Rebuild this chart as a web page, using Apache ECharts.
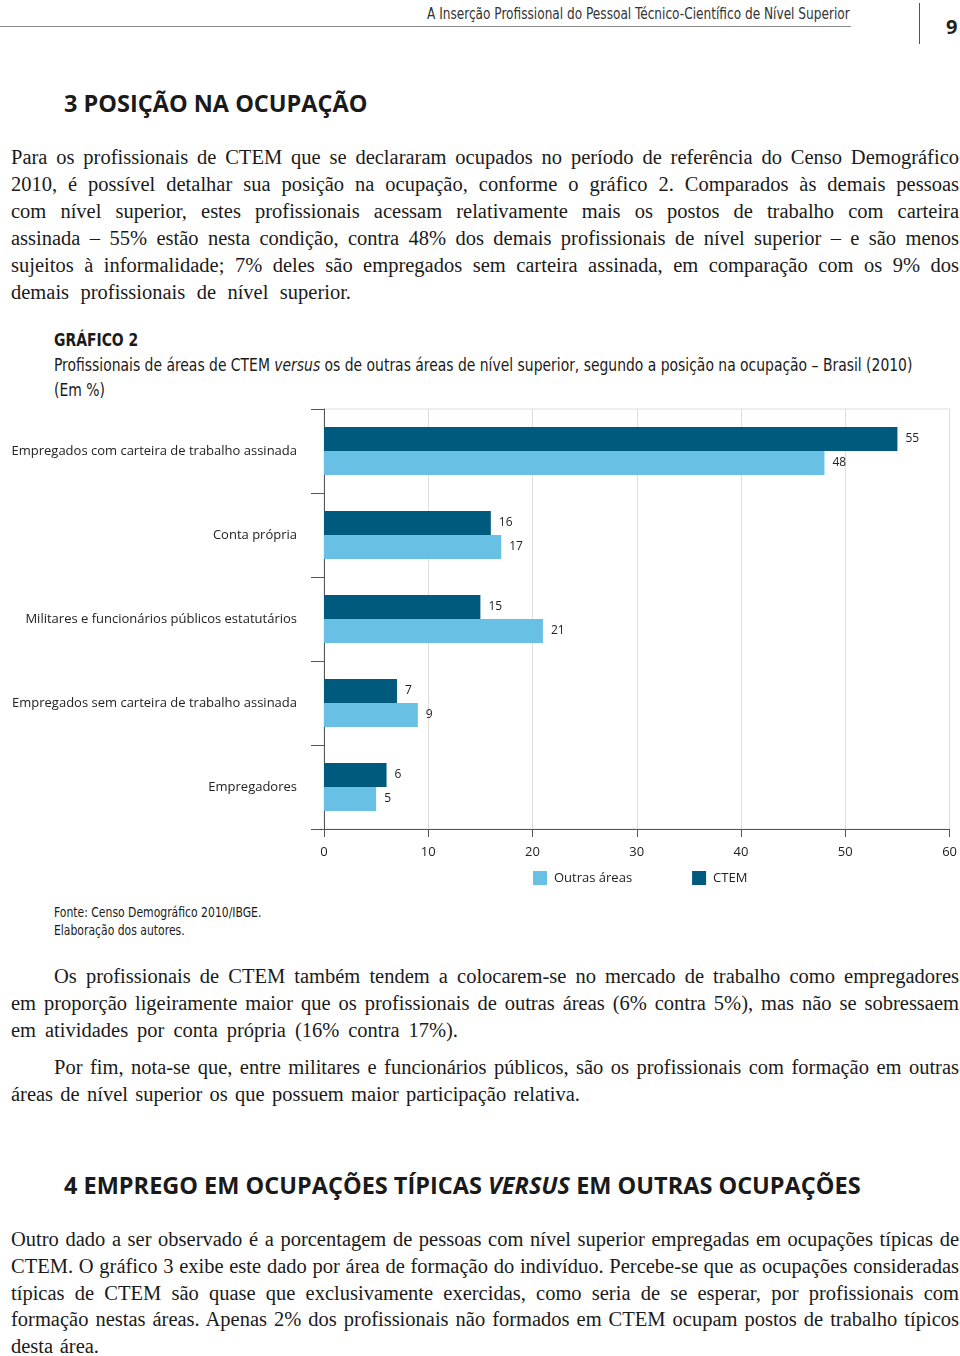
<!DOCTYPE html>
<html lang="pt">
<head>
<meta charset="utf-8">
<script src="https://cdn.jsdelivr.net/npm/echarts@6/dist/echarts.min.js"></script>
<style>
  html, body { margin:0; padding:0; background:#fff; }
  body { width:960px; height:1356px; position:relative; overflow:hidden; color:#1a1a1a; }
  .abs { position:absolute; }
  .cond { font-family:"Liberation Sans Narrow","DejaVu Sans Condensed",sans-serif; white-space:nowrap; }
  .hdr { font-size:15px; color:#333; right:110px; top:5px; transform:scaleX(0.9); transform-origin:right center; }
  .hline { left:0; top:26px; width:851px; height:1px; background:#8a8a8a; }
  .vline { left:919px; top:3px; width:1px; height:41px; background:#555; }
  .pnum { left:946px; top:13px; font-family:"Open Sans",sans-serif; font-weight:700; font-size:20px; color:#222; }
  .h { font-family:"Open Sans",sans-serif; font-weight:700; font-size:23.5px; color:#1a1a1a; left:64px; white-space:nowrap; }
  .p { font-family:"Liberation Serif",serif; font-size:20.5px; line-height:27px; left:11px; width:948px; color:#1a1a1a; }
  .p div { white-space:nowrap; text-align:justify; text-align-last:justify; }
  .p div.ind { padding-left:43px; }
  .ct { left:54px; color:#1a1a1a; transform-origin:left center; }
  #chart { position:absolute; left:0; top:400px; width:960px; height:495px; }
</style>
</head>
<body>
<div class="abs cond hdr">A Inserção Profissional do Pessoal Técnico-Científico de Nível Superior</div>
<div class="abs hline"></div>
<div class="abs vline"></div>
<div class="abs pnum">9</div>

<div class="abs h" style="top:87px;">3 POSIÇÃO NA OCUPAÇÃO</div>

<div class="abs p" style="top:144px;">
  <div>Para os profissionais de CTEM que se declararam ocupados no período de referência do Censo Demográfico</div>
  <div>2010, é possível detalhar sua posição na ocupação, conforme o gráfico 2. Comparados às demais pessoas</div>
  <div>com nível superior, estes profissionais acessam relativamente mais os postos de trabalho com carteira</div>
  <div>assinada – 55% estão nesta condição, contra 48% dos demais profissionais de nível superior – e são menos</div>
  <div>sujeitos à informalidade; 7% deles são empregados sem carteira assinada, em comparação com os 9% dos</div>
  <div style="width:340px;">demais profissionais de nível superior.</div>
</div>

<div class="abs cond ct" style="top:329px;font-size:18px;font-weight:700;transform:scaleX(0.86);">GRÁFICO 2</div>
<div class="abs cond ct" style="top:355px;font-size:17px;transform:scaleX(0.91);">Profissionais de áreas de CTEM <i>versus</i> os de outras áreas de nível superior, segundo a posição na ocupação – Brasil (2010)</div>
<div class="abs cond ct" style="top:380px;font-size:17px;transform:scaleX(0.91);">(Em %)</div>

<div id="chart"></div>

<div class="abs cond ct" style="top:904px;font-size:14px;transform:scaleX(0.86);">Fonte: Censo Demográfico 2010/IBGE.</div>
<div class="abs cond ct" style="top:922px;font-size:14px;transform:scaleX(0.86);">Elaboração dos autores.</div>

<div class="abs p" style="top:963px;">
  <div class="ind">Os profissionais de CTEM também tendem a colocarem-se no mercado de trabalho como empregadores</div>
  <div>em proporção ligeiramente maior que os profissionais de outras áreas (6% contra 5%), mas não se sobressaem</div>
  <div style="width:447px;">em atividades por conta própria (16% contra 17%).</div>
</div>

<div class="abs p" style="top:1054px;">
  <div class="ind">Por fim, nota-se que, entre militares e funcionários públicos, são os profissionais com formação em outras</div>
  <div style="width:569px;">áreas de nível superior os que possuem maior participação relativa.</div>
</div>

<div class="abs h" style="top:1169px;">4 EMPREGO EM OCUPAÇÕES TÍPICAS <i>VERSUS</i> EM OUTRAS OCUPAÇÕES</div>

<div class="abs p" style="top:1226px;line-height:26.8px;">
  <div>Outro dado a ser observado é a porcentagem de pessoas com nível superior empregadas em ocupações típicas de</div>
  <div>CTEM. O gráfico 3 exibe este dado por área de formação do indivíduo. Percebe-se que as ocupações consideradas</div>
  <div>típicas de CTEM são quase que exclusivamente exercidas, como seria de se esperar, por profissionais com</div>
  <div>formação nestas áreas. Apenas 2% dos profissionais não formados em CTEM ocupam postos de trabalho típicos</div>
  <div style="width:88px;">desta área.</div>
</div>

<script>
const categories = [
  'Empregados com carteira de trabalho assinada',
  'Conta própria',
  'Militares e funcionários públicos estatutários',
  'Empregados sem carteira de trabalho assinada',
  'Empregadores'
];
const ctemValues = [55, 16, 15, 7, 6];
const outrasValues = [48, 17, 21, 9, 5];
const xTicks = { min: 0, max: 60, interval: 10 };

const chart = echarts.init(document.getElementById('chart'));
const fontFamily = '"Open Sans", sans-serif';
const labelStyle = { show: true, position: 'right', distance: 8, fontSize: 12, color: '#222', fontFamily };
chart.setOption({
  animation: false,
  textStyle: { fontFamily },
  grid: { left: 324, right: 9, top: 9, bottom: 66, show: true, borderColor: '#dedede', borderWidth: 1 },
  legend: {
    data: ['Outras áreas', 'CTEM'],
    left: 528, top: 466,
    icon: 'rect', itemWidth: 14, itemHeight: 14, itemGap: 60,
    textStyle: { fontSize: 13, color: '#222', fontFamily, padding: [0, 0, 0, 2] }
  },
  xAxis: {
    type: 'value', min: xTicks.min, max: xTicks.max, interval: xTicks.interval,
    axisLine: { show: true, lineStyle: { color: '#555', width: 1 } },
    axisTick: { show: true, length: 8, lineStyle: { color: '#555' } },
    splitLine: { show: true, lineStyle: { color: '#dedede' } },
    axisLabel: { fontSize: 13, color: '#222', margin: 17 }
  },
  yAxis: {
    type: 'category', data: categories, inverse: true,
    axisLine: { show: true, lineStyle: { color: '#555', width: 1 } },
    axisTick: { show: true, length: 13, lineStyle: { color: '#555' } },
    axisLabel: { fontSize: 13, color: '#222', margin: 27 }
  },
  series: [
    { name: 'CTEM', type: 'bar', data: ctemValues, barWidth: 24, barGap: '0%',
      itemStyle: { color: '#005a7e' }, label: labelStyle },
    { name: 'Outras áreas', type: 'bar', data: outrasValues, barWidth: 24, barGap: '0%',
      itemStyle: { color: '#68c1e4' }, label: labelStyle }
  ]
});
</script>
</body>
</html>
